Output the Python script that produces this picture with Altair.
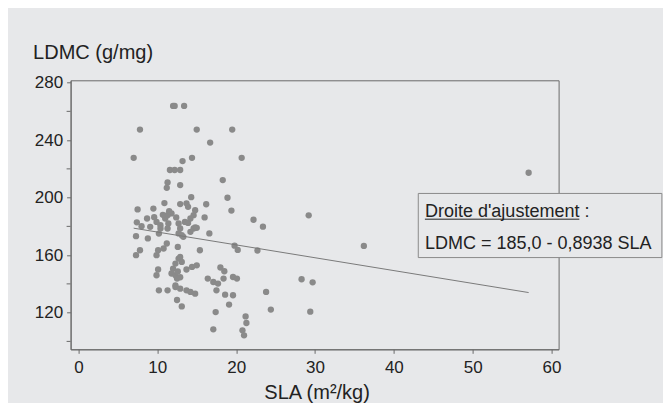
import altair as alt
import pandas as pd

# SLA (m²/kg) and LDMC (g/mg) values
sla = [12.0, 12.2, 13.4, 7.8, 15.0, 19.5, 16.7, 7.0, 14.4, 20.7, 13.2, 11.6, 12.2, 12.9,
       18.3, 11.3, 11.2, 12.9, 18.9, 14.3, 10.9, 12.9, 13.7, 13.9, 16.2, 14.8, 19.4, 7.5,
       9.5, 11.8, 11.3, 12.4, 14.6, 16.0, 22.2, 23.4, 29.2, 36.2, 57.1, 7.4, 8.0, 8.7,
       9.6, 9.9, 9.1, 10.4, 10.4, 11.0, 11.4, 11.3, 12.7, 12.9, 13.5, 13.9, 14.2, 14.6,
       14.8, 14.2, 13.3, 12.7, 13.1, 15.0, 16.6, 7.3, 8.8, 7.3, 7.8, 10.1, 9.9, 10.8,
       11.2, 12.6, 15.4, 19.8, 20.2, 22.7, 12.7, 12.9, 13.1, 12.3, 12.0, 11.8, 12.3, 10.1,
       9.9, 13.7, 14.4, 15.0, 18.0, 18.5, 12.5, 16.4, 17.1, 17.7, 18.4, 19.6, 20.1, 28.3,
       29.7, 12.3, 10.2, 11.3, 12.3, 12.9, 13.7, 14.2, 14.8, 17.5, 18.6, 19.6, 23.8, 12.5,
       13.1, 19.1, 24.4, 17.4, 29.4, 21.2, 21.3, 17.1, 20.8, 21.0, 11.5, 10.7, 10.2, 12.6,
       12.9]
ldmc = [263.8, 263.8, 263.8, 247.3, 247.3, 247.3, 238.3, 227.7, 227.7, 227.7, 225.4, 219.2,
        219.2, 219.2, 212.2, 210.6, 206.8, 208.7, 199.9, 200.3, 196.2, 195.5, 196.0, 193.6,
        195.4, 191.3, 191.0, 191.8, 192.4, 189.0, 187.8, 186.2, 187.8, 186.2, 184.6, 179.8,
        187.7, 166.4, 217.3, 182.8, 180.1, 185.5, 186.4, 183.1, 179.7, 180.8, 178.5, 185.5,
        182.0, 178.5, 182.0, 178.5, 183.1, 182.4, 185.5, 178.5, 179.2, 176.2, 172.7, 175.1,
        173.9, 179.0, 175.1, 173.2, 171.6, 160.0, 163.4, 163.4, 160.0, 164.6, 168.1, 165.7,
        163.4, 166.6, 163.6, 163.2, 157.6, 158.7, 155.3, 154.1, 150.6, 147.2, 146.0, 150.0,
        146.0, 150.0, 151.8, 152.9, 151.4, 148.8, 143.7, 143.7, 141.3, 140.2, 143.7, 144.8,
        143.7, 143.2, 141.1, 139.0, 135.5, 135.5, 137.8, 136.7, 135.5, 134.4, 133.2, 135.5,
        132.5, 132.1, 134.4, 128.8, 124.3, 125.6, 122.1, 120.4, 120.7, 117.4, 112.8, 108.4,
        107.7, 104.2, 190.5, 188.0, 175.0, 148.6, 144.6]

fit_intercept = 185.0
fit_slope = -0.8938
fit_sla = [7.0, 57.1]

x_ticks = [0, 10, 20, 30, 40, 50, 60]
y_ticks = [120, 160, 200, 240, 280]
y_minor_ticks = [100, 140, 180, 220, 260]

legend_title = "Droite d'ajustement :"
legend_eq = "LDMC = 185,0 - 0,8938 SLA"

BG = "#e7e8ea"
FRAME = "#6a6a6a"
TXT = "#222222"
FONT = "Liberation Sans"

pts = pd.DataFrame({"SLA": sla, "LDMC": ldmc})
fit = pd.DataFrame({"SLA": fit_sla,
                    "LDMC": [fit_intercept + fit_slope * v for v in fit_sla]})
minor = pd.DataFrame({"LDMC": y_minor_ticks})

xs = alt.Scale(domain=[-1, 60.9], nice=False, zero=False)
ys = alt.Scale(domain=[94.5, 281.6], nice=False, zero=False)

xaxis = alt.Axis(values=x_ticks, title="SLA (m²/kg)", grid=False,
                 labelFontSize=17, labelFont=FONT, labelColor=TXT, labelPadding=6,
                 tickSize=4, tickColor=FRAME, domainColor=FRAME,
                 titleFontSize=20, titleFont=FONT, titleFontWeight="normal", titleColor=TXT,
                 titleX=246, titleY=49, titleBaseline="alphabetic", titleAlign="center")
yaxis = alt.Axis(values=y_ticks, title="LDMC (g/mg)", grid=False,
                 labelFontSize=17, labelFont=FONT, labelColor=TXT, labelPadding=4,
                 tickSize=4, tickColor=FRAME, domainColor=FRAME,
                 titleFontSize=20, titleFont=FONT, titleFontWeight="normal", titleColor=TXT,
                 titleAngle=0, titleAlign="left", titleBaseline="alphabetic",
                 titleX=-38, titleY=-22)

points = alt.Chart(pts).mark_circle(size=40, color="#8a8a8a", opacity=1).encode(
    x=alt.X("SLA:Q", scale=xs, axis=xaxis),
    y=alt.Y("LDMC:Q", scale=ys, axis=yaxis),
)

minor_ticks = alt.Chart(minor).mark_rule(color=FRAME, strokeWidth=1).encode(
    y=alt.Y("LDMC:Q", scale=ys), x=alt.value(-4), x2=alt.value(0)
)

line = alt.Chart(fit).mark_line(color="#7a7a7a", strokeWidth=1).encode(
    x=alt.X("SLA:Q", scale=xs), y=alt.Y("LDMC:Q", scale=ys)
)

box_df = pd.DataFrame({"x": [43.1], "x2": [74.0], "y": [202.9], "y2": [158.3]})
box = alt.Chart(box_df).mark_rect(fill=BG, stroke="#8a8a8a", strokeWidth=1).encode(
    x=alt.X("x:Q", scale=xs), x2="x2", y=alt.Y("y:Q", scale=ys), y2="y2"
)

txt_df = pd.DataFrame({"x": [43.94, 43.94], "y": [186.6, 164.1],
                       "t": [legend_title, legend_eq]})
texts = alt.Chart(txt_df).mark_text(align="left", baseline="alphabetic", fontSize=18,
                                    font=FONT, color=TXT).encode(
    x=alt.X("x:Q", scale=xs), y=alt.Y("y:Q", scale=ys), text="t:N"
)

ul_df = pd.DataFrame({"x": [43.94], "x2": [63.53], "y": [185.0]})
underline = alt.Chart(ul_df).mark_rule(color=TXT, strokeWidth=1).encode(
    x=alt.X("x:Q", scale=xs), x2="x2", y=alt.Y("y:Q", scale=ys)
)

chart = alt.layer(points, minor_ticks, line, box, texts, underline).properties(
    width=488, height=269,
    autosize=alt.AutoSizeParams(type="none"),
    padding={"left": 62.6, "top": 72.3, "right": 104.4, "bottom": 53.7},
    background=BG,
).configure_view(stroke=FRAME, strokeWidth=1, fill=BG)

chart.save("out.html", embed_options={"renderer": "svg", "actions": False})
